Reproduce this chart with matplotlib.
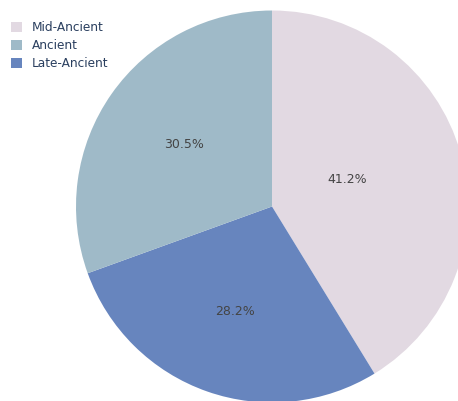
import matplotlib
matplotlib.use("Agg")
import matplotlib.pyplot as plt
from matplotlib.patches import Patch
import numpy as np

# data
categories = ["Mid-Ancient", "Late-Ancient", "Ancient"]
values = [41.2, 28.2, 30.5]
colors = ["#e2d9e2", "#6785be", "#9fbac8"]
legend_order = ["Mid-Ancient", "Ancient", "Late-Ancient"]
label_radius = [0.41, 0.565, 0.55]
label_turn = [4.0, 0.0, 0.0]

W, H = 458, 401
fig = plt.figure(figsize=(W / 100, H / 100), dpi=100)
cx, cy, r = 272, 206.5, 196
ax = fig.add_axes([(cx - r) / W, (H - cy - r) / H, 2 * r / W, 2 * r / H])
ax.axis("off")

wedges, _ = ax.pie(values, colors=colors, startangle=90, counterclock=False,
                   radius=1, wedgeprops=dict(linewidth=0))
ax.set_xlim(-1, 1)
ax.set_ylim(-1, 1)
total = sum(values)
for w, v, lr, tn in zip(wedges, values, label_radius, label_turn):
    ang = np.deg2rad((w.theta1 + w.theta2) / 2 + tn)
    ax.text(lr * np.cos(ang), lr * np.sin(ang), f"{v / total * 100:.1f}%",
            ha="center", va="center", fontsize=9, color="#444444")

handles = [Patch(facecolor=colors[categories.index(c)], edgecolor="none", label=c)
           for c in legend_order]
leg = fig.legend(handles=handles, loc="upper left", bbox_to_anchor=(0.024, 0.947),
                 frameon=False, fontsize=8.7, handlelength=0.95, handleheight=0.95,
                 handletextpad=0.8, labelspacing=0.42, borderaxespad=0,
                 borderpad=0)
for t in leg.get_texts():
    t.set_color("#2a3f5f")

fig.savefig("out.png", dpi=100)
